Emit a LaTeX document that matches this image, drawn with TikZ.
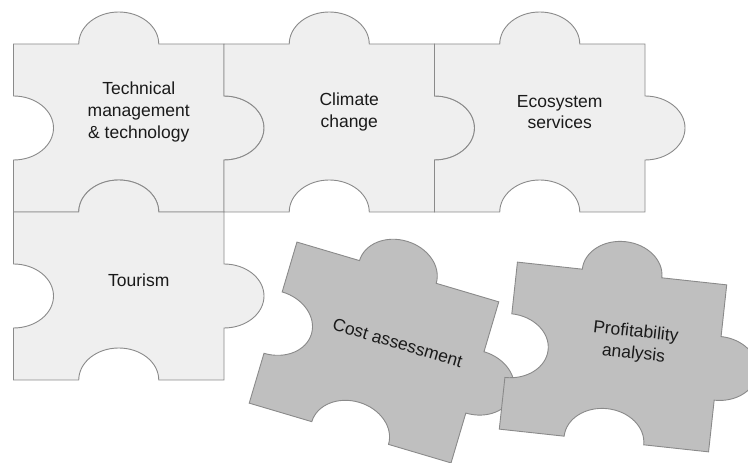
\documentclass[tikz,border=0pt]{standalone}
\usepackage{fontspec}
\setmainfont{Liberation Sans}
\definecolor{pieceedge}{HTML}{8A8A8A}
\definecolor{piecelight}{HTML}{EFEFEF}
\definecolor{piecedark}{HTML}{BFBFBF}
\definecolor{piecetext}{HTML}{1A1A1A}
\tikzset{
	pics/piece/.style={code={
		\draw[#1] (-105.25,84) -- (-40,84)
			arc[start angle=180, end angle=0, x radius=40pt, y radius=32pt]
			-- (105.25,84) -- (105.25,32)
			arc[start angle=90, end angle=-90, x radius=40pt, y radius=32pt]
			-- (105.25,-84) -- (40,-84)
			arc[start angle=0, end angle=180, x radius=40pt, y radius=32pt]
			-- (-105.25,-84) -- (-105.25,-32)
			arc[start angle=-90, end angle=90, x radius=40pt, y radius=32pt]
			-- cycle;
	}},
	lightpiece/.style={draw=pieceedge, fill=piecelight, line width=0.9pt},
	darkpiece/.style={draw=pieceedge, fill=piecedark, line width=0.9pt},
	piecelabel/.style={font=\fontsize{17.5}{21.7}\selectfont, text=piecetext, align=center},
}
\begin{document}
\begin{tikzpicture}[x=1pt, y=1pt]
	\useasboundingbox (0,0) rectangle (748,463);
	% top row
	\pic (tech) at (118.75,335) {piece=lightpiece};
	\node[piecelabel] (techtext) at (138.75,351) {Technical\\management\\\& technology};
	\pic (climate) at (329.25,335) {piece=lightpiece};
	\node[piecelabel] (climatetext) at (349.25,351) {Climate\\change};
	\pic (ecosystem) at (539.75,335) {piece=lightpiece};
	\node[piecelabel] (ecosystemtext) at (559.75,351) {Ecosystem\\services};
	% second row
	\pic (tourism) at (118.75,167) {piece=lightpiece};
	\node[piecelabel] (tourismtext) at (138.75,183) {Tourism};
	% loose piece 1
	\begin{scope}[shift={(374,110.5)}, rotate=-16.5]
		\pic[transform shape] (cost) at (0,0) {piece=darkpiece};
		\node[piecelabel, transform shape] (costtext) at (20,16) {Cost assessment};
	\end{scope}
	% loose piece 2
	\begin{scope}[shift={(613,106)}, rotate=-6.2]
		\pic[transform shape] (profit) at (0,0) {piece=darkpiece};
		\node[piecelabel, transform shape] (profittext) at (20,16) {Profitability\\analysis};
	\end{scope}
\end{tikzpicture}
\end{document}
